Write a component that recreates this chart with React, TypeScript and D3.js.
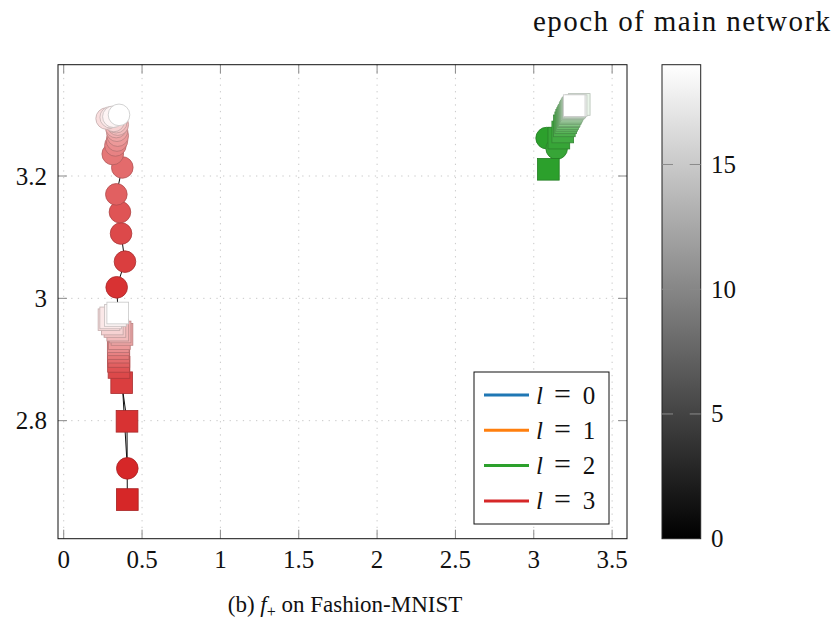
import React from "react";
import * as d3 from "d3";

// ---- data ----
const seriesNames = ["l = 0", "l = 1", "l = 2", "l = 3"];
const seriesColors = ["#1f77b4", "#ff7f0e", "#2ca02c", "#d62728"];
const epochs = d3.range(20);

// l = 2 (green)
const greenCircleX = [3.082, 3.146, 3.175, 3.19, 3.2, 3.205, 3.21, 3.215, 3.22, 3.224, 3.228, 3.232, 3.236, 3.24, 3.244, 3.248, 3.252, 3.256, 3.26, 3.262];
const greenCircleY = [3.262, 3.245, 3.27, 3.28, 3.285, 3.289, 3.292, 3.295, 3.297, 3.299, 3.301, 3.303, 3.305, 3.306, 3.307, 3.308, 3.309, 3.31, 3.311, 3.312];
const greenSquareX = [3.093, 3.16, 3.185, 3.195, 3.204, 3.21, 3.216, 3.222, 3.226, 3.232, 3.236, 3.24, 3.244, 3.248, 3.252, 3.256, 3.262, 3.29, 3.27, 3.258];
const greenSquareY = [3.211, 3.262, 3.272, 3.282, 3.287, 3.291, 3.294, 3.297, 3.299, 3.302, 3.304, 3.306, 3.308, 3.31, 3.311, 3.312, 3.313, 3.317, 3.315, 3.315];

// l = 3 (red)
const redCircleX = [0.406, 0.338, 0.391, 0.366, 0.359, 0.336, 0.374, 0.313, 0.33, 0.34, 0.345, 0.34, 0.335, 0.345, 0.335, 0.32, 0.274, 0.3, 0.317, 0.353];
const redCircleY = [2.722, 3.018, 3.06, 3.106, 3.141, 3.17, 3.214, 3.236, 3.25, 3.258, 3.266, 3.274, 3.28, 3.284, 3.288, 3.29, 3.294, 3.296, 3.297, 3.3];
const redSquareX = [0.406, 0.404, 0.37, 0.353, 0.35, 0.352, 0.35, 0.348, 0.35, 0.348, 0.355, 0.372, 0.36, 0.345, 0.327, 0.31, 0.289, 0.3, 0.33, 0.345];
const redSquareY = [2.671, 2.799, 2.862, 2.887, 2.897, 2.905, 2.912, 2.918, 2.924, 2.929, 2.934, 2.941, 2.945, 2.948, 2.954, 2.958, 2.965, 2.968, 2.972, 2.976];

const xTicks = [0, 0.5, 1, 1.5, 2, 2.5, 3, 3.5];
const xTickLabels = ["0", "0.5", "1", "1.5", "2", "2.5", "3", "3.5"];
const yTicks = [2.8, 3.0, 3.2];
const yTickLabels = ["2.8", "3", "3.2"];
const cbTicks = [0, 5, 10, 15];
const cbTickLabels = ["0", "5", "10", "15"];

const plotted = [
  { idx: 2, cx: greenCircleX, cy: greenCircleY, sx: greenSquareX, sy: greenSquareY },
  { idx: 3, cx: redCircleX, cy: redCircleY, sx: redSquareX, sy: redSquareY },
];

const FONT = "'Liberation Serif', 'Times New Roman', serif";

export default function App() {
  const W = 838, H = 628;
  const L = 58, R = 627, T = 64.7, B = 538.7;
  const x = d3.scaleLinear().domain([-0.0364, 3.595]).range([L, R]);
  const y = d3.scaleLinear().domain([2.607, 3.382]).range([B, T]);
  const cbX0 = 662, cbX1 = 700.7;
  const cb = d3.scaleLinear().domain([0, 19]).range([B, T]);
  const r = 10.8;
  const sq = 21.7;
  const line = d3.line<number>();

  const fillFor = (s: number, e: number) => d3.interpolateRgb(seriesColors[s], "#ffffff")(e / 19);
  const strokeFor = (f: string) => d3.interpolateRgb(f, "#000000")(0.22);

  const fs = 23;
  const nfs = 25;

  return (
    <svg width={W} height={H} style={{ position: "absolute", left: 0, top: 0, background: "#fff" }} fontFamily={FONT}>
      <defs>
        <linearGradient id="cbgrad" x1="0" y1="1" x2="0" y2="0">
          <stop offset="0" stopColor="#000" />
          <stop offset="1" stopColor="#fff" />
        </linearGradient>
        <clipPath id="plotclip">
          <rect x={L} y={T} width={R - L} height={B - T} />
        </clipPath>
      </defs>

      {/* grid */}
      {xTicks.map((t, i) => (
        <line key={"gx" + i} x1={x(t)} x2={x(t)} y1={T} y2={B} stroke="#c8c8c8" strokeWidth={1} strokeDasharray="1.3 5.3" />
      ))}
      {yTicks.map((t, i) => (
        <line key={"gy" + i} x1={L} x2={R} y1={y(t)} y2={y(t)} stroke="#c8c8c8" strokeWidth={1} strokeDasharray="1.3 5.3" />
      ))}

      {/* ticks */}
      {xTicks.map((t, i) => (
        <g key={"tx" + i} stroke="#8a8a8a" strokeWidth={1}>
          <line x1={x(t)} x2={x(t)} y1={B} y2={B - 9} />
          <line x1={x(t)} x2={x(t)} y1={T} y2={T + 9} />
        </g>
      ))}
      {yTicks.map((t, i) => (
        <g key={"ty" + i} stroke="#8a8a8a" strokeWidth={1}>
          <line x1={L} x2={L + 9} y1={y(t)} y2={y(t)} />
          <line x1={R} x2={R - 9} y1={y(t)} y2={y(t)} />
        </g>
      ))}

      <g clipPath="url(#plotclip)">
        {/* connecting lines */}
        {plotted.map((p) => (
          <g key={"ln" + p.idx} fill="none" stroke="#111" strokeWidth={1}>
            <path d={line(epochs.map((e) => [x(p.cx[e]), y(p.cy[e])]) as any) || ""} />
            <path d={line(epochs.map((e) => [x(p.sx[e]), y(p.sy[e])]) as any) || ""} />
          </g>
        ))}
        {/* markers */}
        {plotted.map((p) => (
          <g key={"mk" + p.idx}>
            {epochs.map((e) => {
              const f = fillFor(p.idx, e);
              return <circle key={"c" + e} cx={x(p.cx[e])} cy={y(p.cy[e])} r={r} fill={f} stroke={strokeFor(f)} strokeWidth={0.8} />;
            })}
            {epochs.map((e) => {
              const f = fillFor(p.idx, e);
              return (
                <rect key={"s" + e} x={x(p.sx[e]) - sq / 2} y={y(p.sy[e]) - sq / 2} width={sq} height={sq} fill={f} stroke={strokeFor(f)} strokeWidth={0.8} />
              );
            })}
          </g>
        ))}
      </g>

      {/* frame */}
      <rect x={L} y={T} width={R - L} height={B - T} fill="none" stroke="#111" strokeWidth={1} />

      {/* tick labels */}
      {xTicks.map((t, i) => (
        <text key={"xl" + i} x={x(t)} y={568} textAnchor="middle" fontSize={nfs} fill="#111">
          {xTickLabels[i]}
        </text>
      ))}
      {yTicks.map((t, i) => (
        <text key={"yl" + i} x={47} y={y(t) + 8.5} textAnchor="end" fontSize={nfs} fill="#111">
          {yTickLabels[i]}
        </text>
      ))}

      {/* legend */}
      <g>
        <rect x={474} y={372} width={135} height={152} fill="#fff" stroke="#111" strokeWidth={1} />
        {seriesNames.map((n, i) => {
          const ly = 395 + i * 35.3;
          const parts = n.split(" = ");
          return (
            <g key={"lg" + i} fontSize={nfs} fill="#111">
              <line x1={484} x2={529} y1={ly} y2={ly} stroke={seriesColors[i]} strokeWidth={3} />
              <text x={536} y={ly + 8.5} fontStyle="italic">{parts[0]}</text>
              <text x={562.5} y={ly + 8.5} textAnchor="middle" fontSize={30}>=</text>
              <text x={589} y={ly + 8.5} textAnchor="middle">{parts[1]}</text>
            </g>
          );
        })}
      </g>

      {/* colorbar */}
      <rect x={cbX0} y={T} width={cbX1 - cbX0} height={B - T} fill="url(#cbgrad)" stroke="#222" strokeWidth={1} />
      {cbTicks.map((t, i) => (
        <g key={"cb" + i}>
          {t > 0 && (
            <g stroke="#8a8a8a" strokeWidth={1}>
              <line x1={cbX0} x2={cbX0 + 11} y1={cb(t)} y2={cb(t)} />
              <line x1={cbX1} x2={cbX1 - 11} y1={cb(t)} y2={cb(t)} />
            </g>
          )}
          <text x={711} y={cb(t) + 8.5} fontSize={nfs} fill="#111">
            {cbTickLabels[i]}
          </text>
        </g>
      ))}
      <text x={533} y={31} fontSize={29} textLength={297} lengthAdjust="spacing" fill="#111">
        epoch of main network
      </text>

      {/* caption */}
      <text x={345} y={612} textAnchor="middle" fontSize={fs} fill="#111">
        <tspan>(b) </tspan>
        <tspan fontStyle="italic">f</tspan>
        <tspan fontSize={16} dy={5}>+</tspan>
        <tspan dy={-5}> on Fashion-MNIST</tspan>
      </text>
    </svg>
  );
}
